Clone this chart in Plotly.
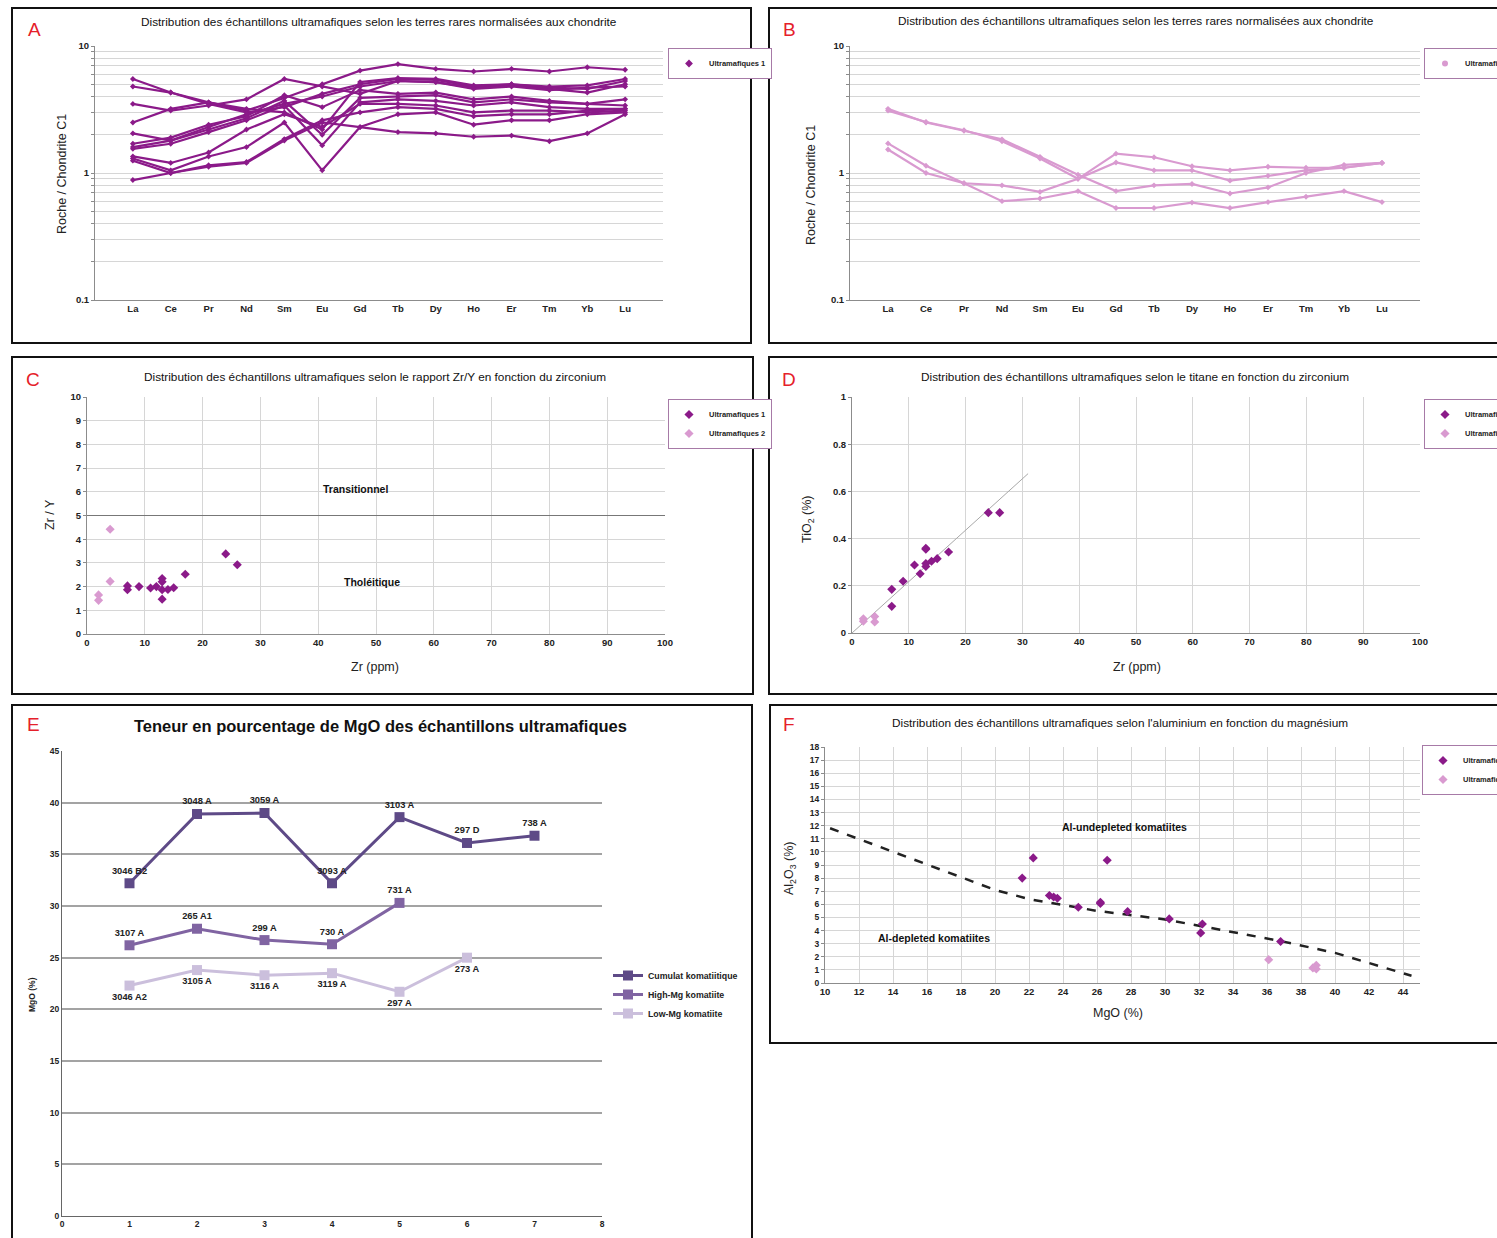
import numpy as np
import plotly.graph_objects as go

W, H = 1497, 1238
FONT = "Liberation Sans, Arial, sans-serif"

# ---------------- Panel A / B : REE normalised to chondrite ----------------
ree = ["La", "Ce", "Pr", "Nd", "Sm", "Eu", "Gd", "Tb", "Dy", "Ho", "Er", "Tm", "Yb", "Lu"]

ree_um1_01 = [5.5, 4.3, 3.6, 3.1, 3.9, 5.0, 6.4, 7.2, 6.6, 6.3, 6.6, 6.3, 6.8, 6.5]
ree_um1_02 = [4.8, 4.3, 3.5, 3.0, 3.3, 4.2, 5.0, 5.5, 5.4, 4.8, 5.0, 4.7, 4.6, 5.3]
ree_um1_03 = [3.5, 3.1, 3.4, 3.8, 5.5, 4.8, 4.2, 5.3, 5.2, 4.7, 4.9, 4.6, 4.3, 5.0]
ree_um1_04 = [2.5, 3.2, 3.6, 3.2, 3.0, 2.2, 5.2, 5.6, 5.5, 4.9, 5.0, 4.8, 4.9, 5.5]
ree_um1_05 = [2.05, 1.8, 2.3, 2.9, 3.5, 4.0, 4.8, 5.3, 5.2, 4.6, 4.8, 4.5, 4.7, 4.8]
ree_um1_06 = [1.7, 1.9, 2.4, 2.8, 4.1, 3.3, 4.5, 4.2, 4.3, 3.8, 4.0, 3.7, 3.5, 3.8]
ree_um1_07 = [1.6, 1.8, 2.2, 2.7, 3.7, 2.0, 3.9, 4.0, 4.1, 3.6, 3.8, 3.6, 3.5, 3.4]
ree_um1_08 = [1.55, 1.7, 2.1, 2.6, 3.4, 1.65, 3.6, 3.8, 3.7, 3.4, 3.6, 3.3, 3.2, 3.2]
ree_um1_09 = [1.35, 1.2, 1.45, 2.2, 2.9, 2.3, 3.5, 3.5, 3.4, 3.0, 3.1, 3.1, 3.0, 3.1]
ree_um1_10 = [1.3, 1.05, 1.35, 1.6, 2.5, 1.05, 2.3, 2.9, 3.0, 2.4, 2.6, 2.6, 2.9, 3.0]
ree_um1_11 = [1.25, 1.0, 1.15, 1.22, 1.85, 2.6, 3.0, 3.3, 3.2, 2.8, 2.9, 2.9, 3.1, 3.2]
ree_um1_12 = [0.88, 1.0, 1.12, 1.2, 1.8, 2.5, 2.3, 2.1, 2.05, 1.93, 1.97, 1.78, 2.05, 2.9]
ree_um1_series = [ree_um1_01, ree_um1_02, ree_um1_03, ree_um1_04, ree_um1_05, ree_um1_06,
                  ree_um1_07, ree_um1_08, ree_um1_09, ree_um1_10, ree_um1_11, ree_um1_12]

ree_um2_01 = [3.2, 2.5, 2.15, 1.84, 1.34, 0.97, 0.72, 0.80, 0.82, 0.69, 0.77, 1.0, 1.16, 1.2]
ree_um2_02 = [3.1, 2.52, 2.17, 1.78, 1.30, 0.90, 1.21, 1.05, 1.05, 0.87, 0.95, 1.05, 1.10, 1.2]
ree_um2_03 = [1.71, 1.14, 0.83, 0.80, 0.71, 0.90, 1.42, 1.33, 1.13, 1.05, 1.12, 1.10, 1.10, 1.2]
ree_um2_04 = [1.53, 1.0, 0.83, 0.60, 0.63, 0.72, 0.53, 0.53, 0.585, 0.53, 0.59, 0.65, 0.72, 0.59]
ree_um2_series = [ree_um2_01, ree_um2_02, ree_um2_03, ree_um2_04]

log_tickvals = [0.1, 0.2, 0.3, 0.4, 0.5, 0.6, 0.7, 0.8, 0.9,
                1, 2, 3, 4, 5, 6, 7, 8, 9, 10]
log_ticktext = ["0.1", " ", " ", " ", " ", " ", " ", " ", " ",
                "1", " ", " ", " ", " ", " ", " ", " ", " ", "10"]

# ---------------- Panel C / D : Zr/Y and TiO2 vs Zr ----------------
zr_um1 = [7, 7, 9, 11, 12, 13, 13, 13, 13, 14, 15, 17, 24, 26]
zry_um1 = [2.03, 1.87, 2.0, 1.94, 2.0, 2.34, 2.2, 1.87, 1.47, 1.88, 1.95, 2.52, 3.38, 2.92]
tio2_um1 = [0.185, 0.113, 0.219, 0.288, 0.251, 0.359, 0.355, 0.294, 0.282, 0.304, 0.315, 0.343, 0.51, 0.51]
zr_um2 = [2, 2, 4, 4]
zry_um2 = [1.65, 1.42, 4.42, 2.22]
tio2_um2 = [0.06, 0.05, 0.07, 0.047]
zry_boundary = 5
trend_zr_extent = [0, 31]

# ---------------- Panel E : MgO content ----------------
cumulat_x = [1, 2, 3, 4, 5, 6, 7]
cumulat_mgo = [32.2, 38.9, 39.0, 32.2, 38.6, 36.1, 36.8]
cumulat_lbl = ["3046 B2", "3048 A", "3059 A", "3093 A", "3103 A", "297 D", "738 A"]
highmg_x = [1, 2, 3, 4, 5]
highmg_mgo = [26.2, 27.8, 26.7, 26.3, 30.3]
highmg_lbl = ["3107 A", "265 A1", "299 A", "730 A", "731 A"]
lowmg_x = [1, 2, 3, 4, 5, 6]
lowmg_mgo = [22.3, 23.8, 23.3, 23.5, 21.7, 25.0]
lowmg_lbl = ["3046 A2", "3105 A", "3116 A", "3119 A", "297 A", "273 A"]

# ---------------- Panel F : Al2O3 vs MgO ----------------
mgo_um1 = [21.6, 22.25, 26.6, 23.2, 23.45, 23.67, 24.9, 26.2, 26.2, 27.8, 30.25, 32.2, 32.1, 36.8]
al_um1 = [8.0, 9.54, 9.36, 6.67, 6.56, 6.46, 5.78, 6.06, 6.16, 5.45, 4.89, 4.5, 3.82, 3.16]
mgo_um2 = [36.1, 38.7, 38.9, 38.9]
al_um2 = [1.78, 1.15, 1.35, 1.07]
boundary_mgo = [10.3, 15, 20, 22, 26, 30, 32, 36.8, 40, 44.5]
boundary_al = [11.8, 9.5, 7.1, 6.4, 5.5, 4.85, 4.35, 3.2, 2.3, 0.55]

# ---------------- colours ----------------
C_UM1 = "#8b1a89"
C_UM2 = "#d99ad0"
C_CUM = "#5e4a87"
C_HMG = "#8064a2"
C_LMG = "#cbbfdc"
GRID = "#d6d6d6"
AXL = "#8c8c8c"


def px(x):
    return x / W


def py(y):
    return 1 - y / H


fig = go.Figure()

# Panel A
for s in ree_um1_series:
    fig.add_trace(go.Scatter(x=ree, y=s, xaxis="x", yaxis="y", mode="lines+markers",
                             line=dict(color=C_UM1, width=2.2),
                             marker=dict(symbol="diamond", size=4.5, color=C_UM1),
                             showlegend=False, hoverinfo="skip"))
fig.add_trace(go.Scatter(x=[None], y=[None], xaxis="x", yaxis="y", mode="markers",
                         marker=dict(symbol="diamond", size=6, color=C_UM1),
                         name="Ultramafiques 1", legend="legend"))

# Panel B
for s in ree_um2_series:
    fig.add_trace(go.Scatter(x=ree, y=s, xaxis="x2", yaxis="y2", mode="lines+markers",
                             line=dict(color=C_UM2, width=2.2),
                             marker=dict(symbol="diamond", size=4.5, color=C_UM2),
                             showlegend=False, hoverinfo="skip"))
fig.add_trace(go.Scatter(x=[None], y=[None], xaxis="x2", yaxis="y2", mode="markers",
                         marker=dict(symbol="circle", size=6, color=C_UM2),
                         name="Ultramafiques 2", legend="legend2"))

# Panel C
fig.add_trace(go.Scatter(x=zr_um1, y=zry_um1, xaxis="x3", yaxis="y3", mode="markers",
                         marker=dict(symbol="diamond", size=7, color=C_UM1),
                         name="Ultramafiques 1", legend="legend3"))
fig.add_trace(go.Scatter(x=zr_um2, y=zry_um2, xaxis="x3", yaxis="y3", mode="markers",
                         marker=dict(symbol="diamond", size=7, color=C_UM2),
                         name="Ultramafiques 2", legend="legend3"))

# Panel D
zr_all = np.array(zr_um1 + zr_um2, dtype=float)
ti_all = np.array(tio2_um1 + tio2_um2, dtype=float)
slope = float((zr_all * ti_all).sum() / (zr_all ** 2).sum())
trend_x = np.array(trend_zr_extent, dtype=float)
fig.add_trace(go.Scatter(x=trend_x, y=slope * trend_x, xaxis="x4", yaxis="y4", mode="lines",
                         line=dict(color="#a8a8a8", width=1), showlegend=False, hoverinfo="skip"))
fig.add_trace(go.Scatter(x=zr_um1, y=tio2_um1, xaxis="x4", yaxis="y4", mode="markers",
                         marker=dict(symbol="diamond", size=7, color=C_UM1),
                         name="Ultramafiques 1", legend="legend4"))
fig.add_trace(go.Scatter(x=zr_um2, y=tio2_um2, xaxis="x4", yaxis="y4", mode="markers",
                         marker=dict(symbol="diamond", size=7, color=C_UM2),
                         name="Ultramafiques 2", legend="legend4"))

# Panel E
lblfont = dict(family=FONT, size=9.3, color="#222", weight="bold")
fig.add_trace(go.Scatter(x=cumulat_x, y=cumulat_mgo, xaxis="x5", yaxis="y5", mode="lines+markers+text",
                         line=dict(color=C_CUM, width=3), marker=dict(symbol="square", size=10, color=C_CUM),
                         text=cumulat_lbl, textposition="top center", textfont=lblfont,
                         name="Cumulat komatiitique", legend="legend5"))
fig.add_trace(go.Scatter(x=highmg_x, y=highmg_mgo, xaxis="x5", yaxis="y5", mode="lines+markers+text",
                         line=dict(color=C_HMG, width=3), marker=dict(symbol="square", size=10, color=C_HMG),
                         text=highmg_lbl, textposition="top center", textfont=lblfont,
                         name="High-Mg komatiite", legend="legend5"))
fig.add_trace(go.Scatter(x=lowmg_x, y=lowmg_mgo, xaxis="x5", yaxis="y5", mode="lines+markers+text",
                         line=dict(color=C_LMG, width=3), marker=dict(symbol="square", size=10, color=C_LMG),
                         text=lowmg_lbl, textposition="bottom center", textfont=lblfont,
                         name="Low-Mg komatiite", legend="legend5"))

# Panel F
fig.add_trace(go.Scatter(x=boundary_mgo, y=boundary_al, xaxis="x6", yaxis="y6", mode="lines",
                         line=dict(color="#222", width=2.5, dash="dash"), showlegend=False, hoverinfo="skip"))
fig.add_trace(go.Scatter(x=mgo_um1, y=al_um1, xaxis="x6", yaxis="y6", mode="markers",
                         marker=dict(symbol="diamond", size=7, color=C_UM1),
                         name="Ultramafiques 1", legend="legend6"))
fig.add_trace(go.Scatter(x=mgo_um2, y=al_um2, xaxis="x6", yaxis="y6", mode="markers",
                         marker=dict(symbol="diamond", size=7, color=C_UM2),
                         name="Ultramafiques 2", legend="legend6"))

tickf = dict(family=FONT, size=9.5, color="#222", weight="bold")


def axis(domain, anchor, **kw):
    d = dict(domain=domain, anchor=anchor, showline=True, linecolor=AXL, linewidth=1,
             zeroline=False, tickfont=tickf, ticks="", showgrid=False, fixedrange=True,
             automargin=False)
    d.update(kw)
    return d


layout = dict(
    width=W, height=H, autosize=False,
    margin=dict(l=0, r=0, t=0, b=0, pad=0, autoexpand=False),
    paper_bgcolor="white", plot_bgcolor="white",
    font=dict(family=FONT, size=10, color="#222"),
    # A
    xaxis=axis([px(95), px(663)], "y", type="category", range=[-1, 14]),
    yaxis=axis([py(300), py(46)], "x", type="log", range=[-1, 1], tickvals=log_tickvals,
               ticktext=log_ticktext, showgrid=True, gridcolor=GRID, ticks="outside",
               ticklen=3, tickcolor=AXL),
    # B
    xaxis2=axis([px(850), px(1420)], "y2", type="category", range=[-1, 14]),
    yaxis2=axis([py(300), py(46)], "x2", type="log", range=[-1, 1], tickvals=log_tickvals,
                ticktext=log_ticktext, showgrid=True, gridcolor=GRID, ticks="outside",
                ticklen=3, tickcolor=AXL),
    # C
    xaxis3=axis([px(87), px(665)], "y3", range=[0, 100], dtick=10, showgrid=True, gridcolor=GRID),
    yaxis3=axis([py(634), py(397)], "x3", range=[0, 10], dtick=1, showgrid=True, gridcolor=GRID,
                ticks="outside", ticklen=3, tickcolor=AXL),
    # D
    xaxis4=axis([px(852), px(1420)], "y4", range=[0, 100], dtick=10, showgrid=True, gridcolor=GRID),
    yaxis4=axis([py(633), py(397)], "x4", range=[0, 1], dtick=0.2, showgrid=True, gridcolor=GRID,
                ticks="outside", ticklen=3, tickcolor=AXL),
    # E
    xaxis5=axis([px(62), px(602)], "y5", range=[0, 8], dtick=1, linecolor="#666",
                tickfont=dict(family=FONT, size=8.5, color="#222", weight="bold")),
    yaxis5=axis([py(1216), py(751)], "x5", range=[0, 45], dtick=5, showgrid=True,
                gridcolor="#a3a3a3", gridwidth=1.5, linecolor="#666",
                tickfont=dict(family=FONT, size=8.5, color="#222", weight="bold")),
    # F
    xaxis6=axis([px(825), px(1420)], "y6", range=[10, 45], tick0=10, dtick=2, showgrid=True,
                gridcolor=GRID),
    yaxis6=axis([py(983), py(747)], "x6", range=[0, 18], dtick=1, showgrid=True, gridcolor=GRID,
                ticks="outside", ticklen=3, tickcolor=AXL,
                tickfont=dict(family=FONT, size=8.5, color="#222", weight="bold")),
)

legfont = dict(family=FONT, size=7.5, color="#222", weight="bold")
legbox = dict(bgcolor="white", bordercolor="#a77aa7", borderwidth=1, font=legfont,
              xanchor="left", yanchor="top", itemwidth=30, tracegroupgap=0)
layout["legend"] = dict(legbox, x=px(668), y=py(48))
layout["legend2"] = dict(legbox, x=px(1424), y=py(48))
layout["legend3"] = dict(legbox, x=px(668), y=py(399))
layout["legend4"] = dict(legbox, x=px(1424), y=py(399))
layout["legend5"] = dict(bgcolor="rgba(0,0,0,0)", borderwidth=0,
                         font=dict(family=FONT, size=8.8, color="#222", weight="bold"),
                         xanchor="left", yanchor="top", x=px(608), y=py(961), itemwidth=30,
                         tracegroupgap=0)
layout["legend6"] = dict(legbox, x=px(1422), y=py(745))

fig.update_layout(**layout)

# panel borders
boxes = [(12, 8, 751, 343), (769, 8, 1505, 343), (12, 357, 753, 694),
         (769, 357, 1505, 694), (12, 705, 752, 1245), (770, 705, 1505, 1043)]
for (x0, y0, x1, y1) in boxes:
    fig.add_shape(type="rect", xref="paper", yref="paper", x0=px(x0), x1=px(x1),
                  y0=py(y1), y1=py(y0), line=dict(color="#111", width=2), layer="above")

# Zr/Y = 5 boundary
fig.add_shape(type="line", xref="x3 domain", yref="y3", x0=0, x1=1, y0=zry_boundary, y1=zry_boundary,
              line=dict(color="#777", width=1.2))

ann = []
# panel letters
for letter, x, y in [("A", 34, 30), ("B", 789, 30), ("C", 33, 380), ("D", 789, 380),
                     ("E", 33, 724), ("F", 789, 724)]:
    ann.append(dict(text=letter, x=px(x), y=py(y), xref="paper", yref="paper", showarrow=False,
                    font=dict(family=FONT, size=19, color="#e5202a"), xanchor="center", yanchor="middle"))

ttl = dict(family=FONT, size=11.8, color="#111")
ree_title = "Distribution des échantillons ultramafiques selon les terres rares normalisées aux chondrite"
titles = [
    (ree_title, 379, 22, ttl),
    (ree_title, 1136, 21, ttl),
    ("Distribution des échantillons ultramafiques selon le rapport Zr/Y en fonction du zirconium", 375, 377, ttl),
    ("Distribution des échantillons ultramafiques selon le titane en fonction du zirconium", 1135, 377, ttl),
    ("Teneur en pourcentage de MgO des échantillons ultramafiques", 381, 726,
     dict(family=FONT, size=16.5, color="#111", weight="bold")),
    ("Distribution des échantillons ultramafiques selon l'aluminium en fonction du magnésium", 1120, 723, ttl),
]
for t, x, y, f in titles:
    ann.append(dict(text=t, x=px(x), y=py(y), xref="paper", yref="paper", showarrow=False,
                    font=f, xanchor="center", yanchor="middle"))

axt = dict(family=FONT, size=12.5, color="#222")
axis_titles = [
    ("Roche / Chondrite C1", 62, 174, -90, axt),
    ("Roche / Chondrite C1", 811, 185, -90, axt),
    ("Zr / Y", 50, 515, -90, axt),
    ("Zr (ppm)", 375, 667, 0, axt),
    ("TiO<sub>2</sub> (%)", 808, 520, -90, axt),
    ("Zr (ppm)", 1137, 667, 0, axt),
    ("MgO (%)", 32, 995, -90, dict(family=FONT, size=8.5, color="#222", weight="bold")),
    ("Al<sub>2</sub>O<sub>3</sub> (%)", 790, 868, -90, axt),
    ("MgO (%)", 1118, 1013, 0, axt),
]
for t, x, y, a, f in axis_titles:
    ann.append(dict(text=t, x=px(x), y=py(y), xref="paper", yref="paper", showarrow=False,
                    font=f, textangle=a, xanchor="center", yanchor="middle"))

regf = dict(family=FONT, size=10.5, color="#111", weight="bold")
ann.append(dict(text="Transitionnel", x=46.5, y=6.1, xref="x3", yref="y3", showarrow=False, font=regf))
ann.append(dict(text="Tholéitique", x=49.3, y=2.2, xref="x3", yref="y3", showarrow=False, font=regf))
ann.append(dict(text="Al-undepleted komatiites", x=27.6, y=11.9, xref="x6", yref="y6", showarrow=False, font=regf))
ann.append(dict(text="Al-depleted komatiites", x=16.4, y=3.4, xref="x6", yref="y6", showarrow=False, font=regf))

fig.update_layout(annotations=ann)

fig.write_html("out.html", config={"displayModeBar": False},
               post_script="document.body.style.margin='0';document.body.style.overflow='hidden';")
